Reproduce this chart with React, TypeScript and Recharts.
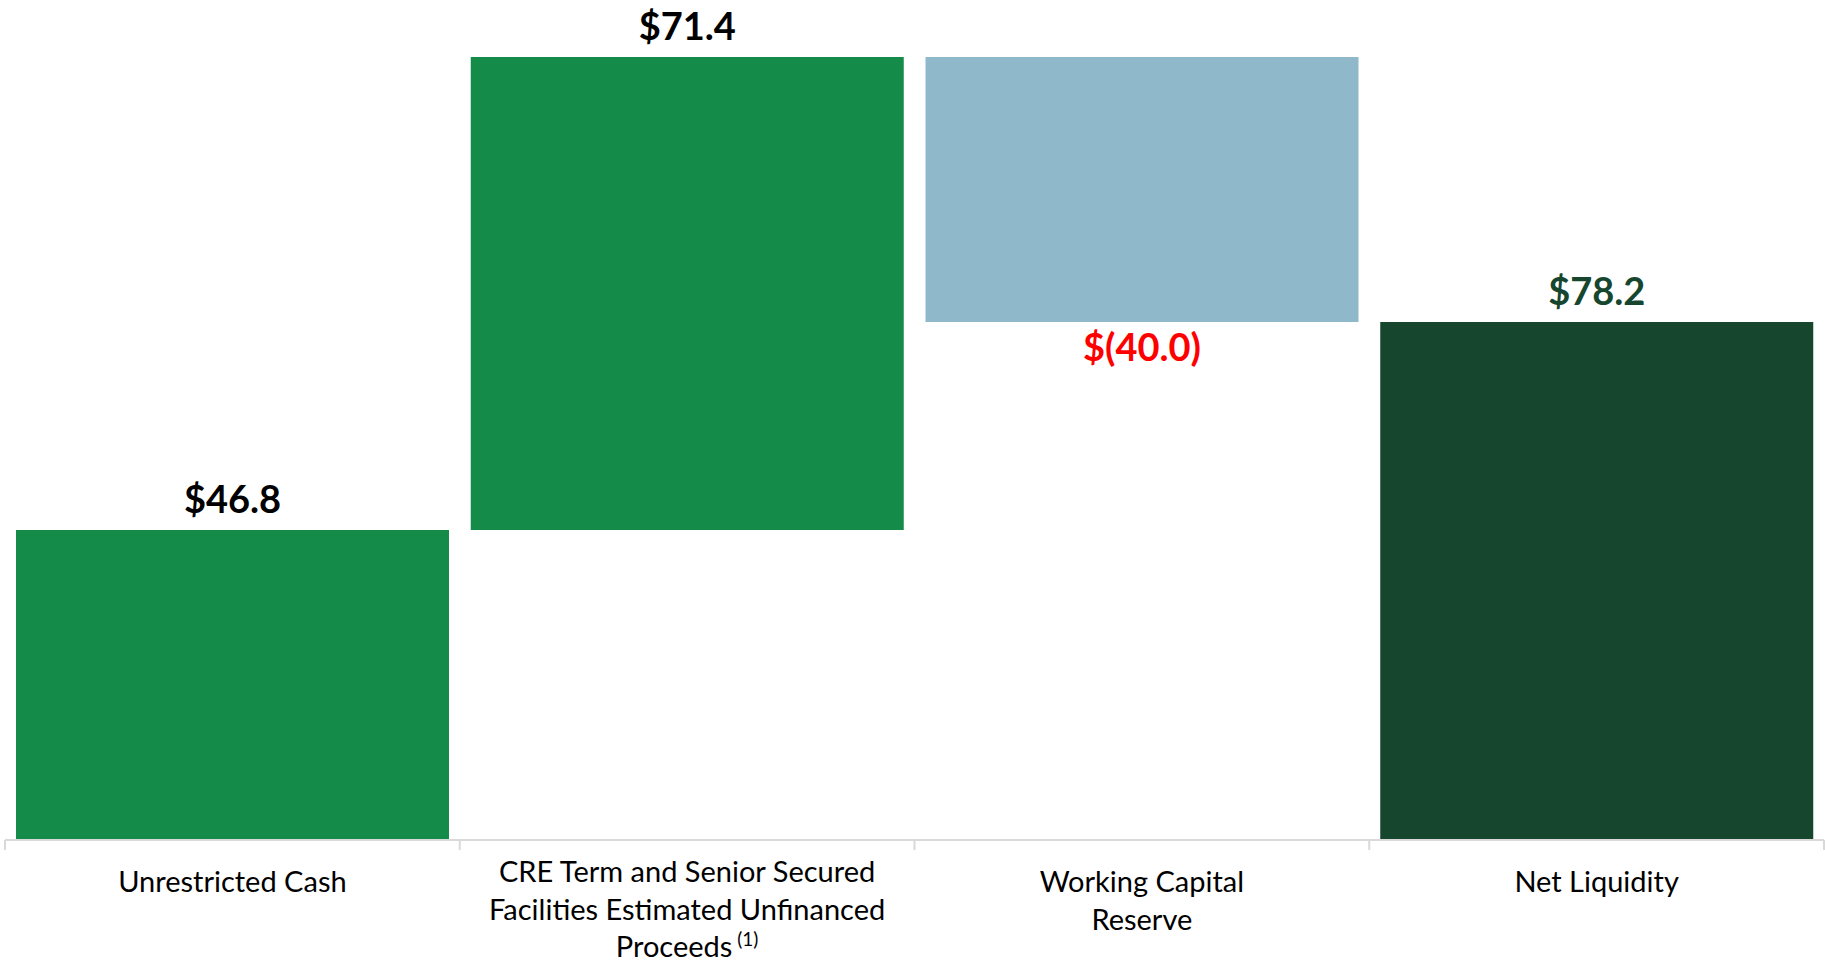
import React from "react";
import { BarChart, Bar, XAxis, YAxis, Cell, LabelList } from "recharts";

const categories = [
  "Unrestricted Cash",
  "CRE Term and Senior Secured Facilities Estimated Unfinanced Proceeds",
  "Working Capital Reserve",
  "Net Liquidity",
];
const changes = [46.8, 71.4, -40.0, 78.2];
const isTotal = [false, false, false, true];
const valueLabels = ["$46.8", "$71.4", "$(40.0)", "$78.2"];
const tickLines = [
  ["Unrestricted Cash"],
  ["CRE Term and Senior Secured", "Facilities Estimated Unfinanced", "Proceeds"],
  ["Working Capital", "Reserve"],
  ["Net Liquidity"],
];
const footnotes = ["", "(1)", "", ""];
const barColors = ["#158B4A", "#158B4A", "#8FB8CA", "#17462F"];
const labelColors = ["#000000", "#000000", "#FF0000", "#17462F"];

const W = 1825;
const H = 962;
const MARGIN = { top: 45, right: 1, left: 5, bottom: 0 };
const PLOT_W = W - MARGIN.left - MARGIN.right;
const AXIS_H = 122;

let running = 0;
const data = categories.map((name, i) => {
  const v = changes[i];
  let base = 0;
  let amount = 0;
  if (isTotal[i]) {
    base = 0;
    amount = v;
  } else if (v >= 0) {
    base = running;
    amount = v;
    running += v;
  } else {
    base = running + v;
    amount = -v;
    running += v;
  }
  return { name, base, amount, idx: i };
});

const FONT = "Lato, 'Open Sans', sans-serif";

function CategoryTick(props: any) {
  const { x, y, payload } = props;
  const i = categories.indexOf(payload.value);
  const lines = tickLines[i] || [];
  const band = PLOT_W / categories.length;
  const first = lines.length > 2 ? 42 : 52;
  const fn = footnotes[i];
  return (
    <g>
      <line x1={x - band / 2} x2={x - band / 2} y1={y} y2={y + 10} stroke="#D9D9D9" strokeWidth={2} />
      {i === categories.length - 1 && (
        <line x1={x + band / 2} x2={x + band / 2} y1={y} y2={y + 10} stroke="#D9D9D9" strokeWidth={2} />
      )}
      <text textAnchor="middle" fontFamily={FONT} fontSize={29} fill="#000000">
        {lines.map((l, k) => (
          <tspan key={k} x={x} y={y + first + k * 37.5}>
            {l}
            {k === lines.length - 1 && fn ? (
              <tspan fontSize={19} dy={-11}>{" " + fn}</tspan>
            ) : null}
          </tspan>
        ))}
      </text>
    </g>
  );
}

function ValueLabel(props: any) {
  const { x, y, width, height, index } = props;
  const neg = changes[index] < 0;
  const cx = x + width / 2;
  const ty = neg ? y + height + 39 : y - 17;
  return (
    <text
      x={cx}
      y={ty}
      textAnchor="middle"
      fontFamily={FONT}
      fontWeight={700}
      fontSize={38}
      fill={labelColors[index]}
    >
      {valueLabels[index]}
    </text>
  );
}

export default function App() {
  return (
    <div style={{ position: "absolute", top: 0, left: 0, width: W, height: H, background: "#fff" }}>
      <BarChart width={W} height={H} data={data} margin={MARGIN} barCategoryGap={11}>
        <XAxis
          dataKey="name"
          interval={0}
          height={AXIS_H}
          tickLine={false}
          tickSize={0}
          tickMargin={0}
          axisLine={{ stroke: "#D9D9D9", strokeWidth: 2 }}
          tick={<CategoryTick />}
        />
        <YAxis hide domain={[0, 120]} />
        <Bar dataKey="base" stackId="w" fill="transparent" isAnimationActive={false} />
        <Bar dataKey="amount" stackId="w" isAnimationActive={false}>
          {data.map((d, i) => (
            <Cell key={i} fill={barColors[i]} />
          ))}
          <LabelList dataKey="amount" content={<ValueLabel />} />
        </Bar>
      </BarChart>
    </div>
  );
}
